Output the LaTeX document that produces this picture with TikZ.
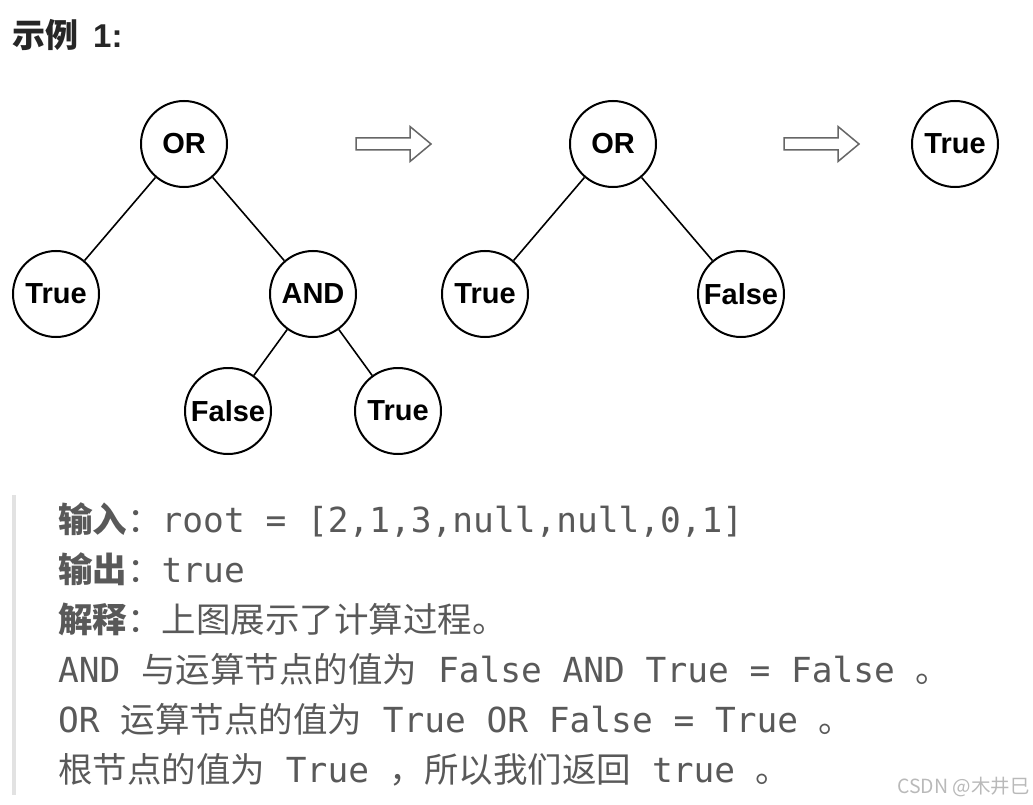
\documentclass[tikz,border=0pt]{standalone}
\usepackage{fontspec}
\setmainfont{Liberation Sans}
\setmonofont{DejaVu Sans Mono}
\newfontfamily\cjk{Noto Sans CJK SC}
\usetikzlibrary{positioning}
\definecolor{textgray}{RGB}{89,89,89}
\definecolor{titlegray}{RGB}{38,38,38}
\definecolor{bargray}{RGB}{226,226,226}
\definecolor{arrowgray}{RGB}{102,102,102}
\definecolor{markgray}{RGB}{185,185,185}
\newcommand\zh[1]{{\cjk #1}}
\begin{document}
\begin{tikzpicture}[x=1pt, y=-1pt,
  main/.style = {draw, circle, line width=2pt, minimum size=86pt, inner sep=0pt,
    font=\fontsize{29}{29}\selectfont\bfseries},
  edge/.style = {line width=1.6pt},
  goes/.style = {draw=arrowgray, fill=white, line width=1.5pt, line join=miter},
  line/.style = {anchor=base west, inner sep=0pt, text=textgray,
    font=\ttfamily\fontsize{34.5}{34.5}\selectfont}]
\useasboundingbox (0,0) rectangle (1033,805);

% title
\node[anchor=base west, inner sep=0pt, text=titlegray, font=\fontsize{33}{33}\selectfont\bfseries]
  (title) at (12,48) {\zh{示例}\hspace{15pt}1:};

% first tree
\node[main] (or1) at (184,144) {OR};
\node[main] (true1) at (56,294) {True};
\node[main] (and) at (313,294) {AND};
\node[main] (false1) at (228,411) {False};
\node[main] (true2) at (398,411) {True};
\draw[edge] (or1) -- (true1);
\draw[edge] (or1) -- (and);
\draw[edge] (and) -- (false1);
\draw[edge] (and) -- (true2);

% second tree
\node[main] (or2) at (613,144) {OR};
\node[main] (true3) at (485,294) {True};
\node[main] (false2) at (741,294) {False};
\draw[edge] (or2) -- (true3);
\draw[edge] (or2) -- (false2);

% result
\node[main] (true4) at (955,144) {True};

% hollow arrows between the steps
\foreach \x in {356, 784} {
  \draw[goes] (\x,138) -- ++(54,0) -- ++(0,-11.5) -- ++(21,17.5) -- ++(-21,17.5)
    -- ++(0,-11.5) -- ++(-54,0) -- cycle;
}

% explanation
\fill[bargray] (12,495) rectangle (16,795);
\node[line] (l1) at (58,532) {\textbf{\zh{输入}}\zh{：}root = [2,1,3,null,null,0,1]};
\node[line] (l2) at (58,582) {\textbf{\zh{输出}}\zh{：}true};
\node[line] (l3) at (58,632) {\textbf{\zh{解释}}\zh{：上图展示了计算过程。}};
\node[line] (l4) at (58,682) {AND \zh{与运算节点的值为} False AND True = False \zh{。}};
\node[line] (l5) at (58,732) {OR \zh{运算节点的值为} True OR False = True \zh{。}};
\node[line] (l6) at (58,782) {\zh{根节点的值为} True \zh{，所以我们返回} true \zh{。}};

\node[anchor=east, inner sep=0pt, text=markgray, font=\cjk\fontsize{19.5}{19.5}\selectfont]
  (mark) at (1030,787) {CSDN @木井巳};
\end{tikzpicture}
\end{document}
